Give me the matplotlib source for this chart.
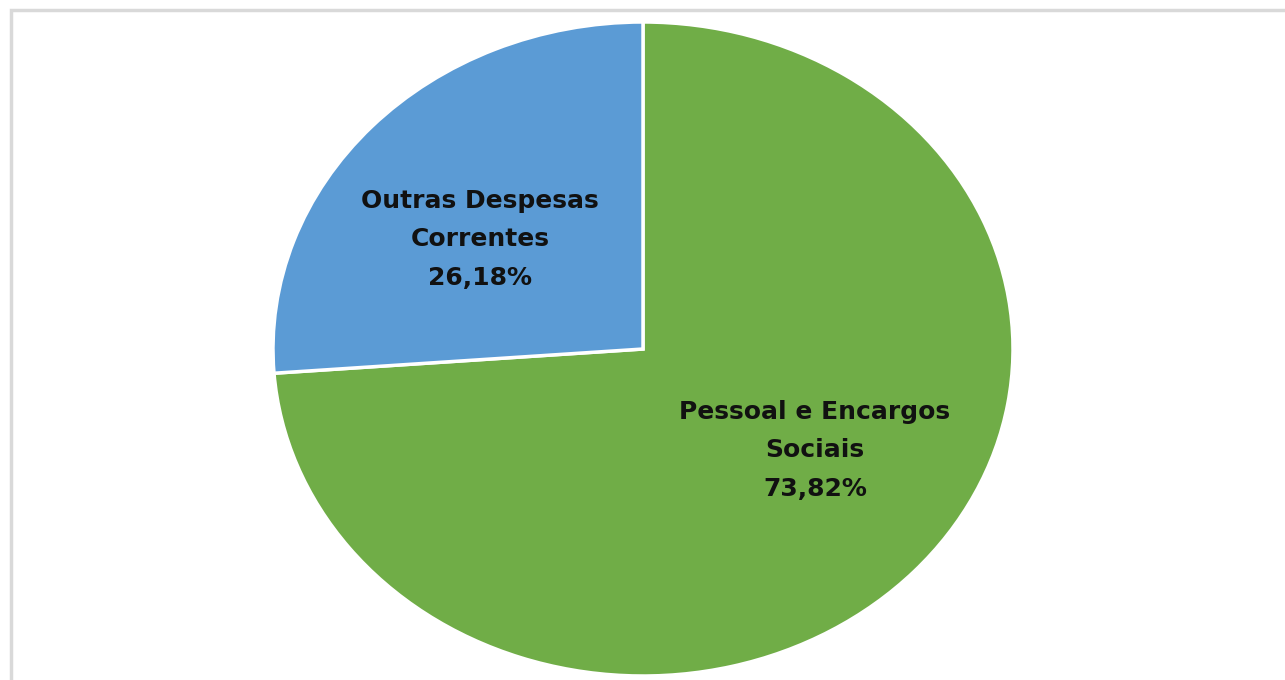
import matplotlib
matplotlib.use("Agg")
import matplotlib.pyplot as plt
from matplotlib.patches import Rectangle

# data
categories = ["Pessoal e Encargos\nSociais", "Outras Despesas\nCorrentes"]
shares = [73.82, 26.18]
share_labels = ["73,82%", "26,18%"]
colors = ["#70AD47", "#5B9BD5"]
label_pos = [(0.465, -0.31), (-0.44, 0.335)]

W, H = 1285, 680
fig = plt.figure(figsize=(W / 100, H / 100), dpi=100)
fig.patch.set_facecolor("white")

# light grey frame, cut off on the right and bottom like the screenshot
fig.patches.append(Rectangle((10.5 / W, -0.1), 1.2, 1 - 10.5 / H + 0.1,
                             transform=fig.transFigure, fill=False,
                             edgecolor="#d9d9d9", linewidth=2.5))

# pie box: stretched horizontally (ellipse)
x0, x1 = 273, 1013
y0, y1 = 22, 676
ax = fig.add_axes([x0 / W, 1 - y1 / H, (x1 - x0) / W, (y1 - y0) / H])
ax.pie(shares, colors=colors, startangle=90, counterclock=False,
       wedgeprops=dict(edgecolor="white", linewidth=2.5))
ax.set_aspect("auto")
ax.set_xlim(-1, 1)
ax.set_ylim(-1, 1)
ax.axis("off")

for (x, y), cat, lab in zip(label_pos, categories, share_labels):
    ax.text(x, y, cat + "\n" + lab, ha="center", va="center",
            fontsize=18, fontweight="bold", family="DejaVu Sans",
            color="#111111", linespacing=1.75)

fig.savefig("out.png", dpi=100)
